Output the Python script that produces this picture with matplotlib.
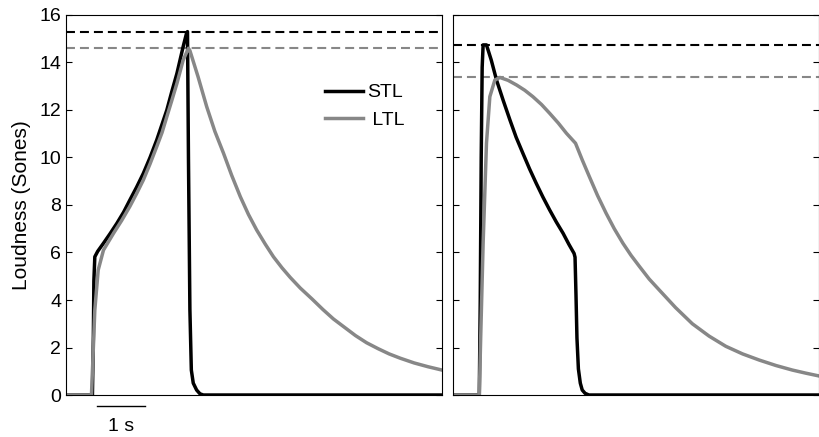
import matplotlib
matplotlib.use("Agg")
import matplotlib.pyplot as plt
import matplotlib.transforms as mtransforms

plt.rcParams['font.family'] = ['Liberation Sans', 'DejaVu Sans']

# === Données (temps en s, sonie en sones) ===
# Panneau gauche
t_stl_g = [0.0, 0.55, 0.57, 0.58, 0.60, 0.66, 0.78, 0.92, 1.06, 1.20, 1.33, 1.47, 1.61,
           1.75, 1.89, 2.00, 2.10, 2.20, 2.31, 2.44, 2.51, 2.53, 2.55, 2.58, 2.61, 2.65,
           2.72, 2.79, 2.86, 7.83]
stl_g = [0.0, 0.0, 2.5, 4.8, 5.82, 6.05, 6.39, 6.8, 7.23, 7.7, 8.21, 8.75, 9.33,
         10.0, 10.74, 11.4, 12.0, 12.75, 13.54, 14.67, 15.23, 15.3, 10.0, 3.6, 1.05, 0.5,
         0.21, 0.05, 0.0, 0.0]

t_ltl_g = [0.0, 0.53, 0.56, 0.60, 0.67, 0.78, 0.99, 1.16, 1.33, 1.47, 1.61, 1.75, 1.89,
           2.00, 2.10, 2.20, 2.31, 2.44, 2.55, 2.58, 2.75, 2.93, 3.10, 3.28, 3.45, 3.63,
           3.80, 3.97, 4.15, 4.32, 4.50, 4.67, 4.88, 5.12, 5.35, 5.57, 5.80, 6.03, 6.26,
           6.50, 6.73, 6.96, 7.25, 7.54, 7.83]
ltl_g = [0.0, 0.0, 1.5, 3.58, 5.26, 6.1, 6.81, 7.35, 7.94, 8.48, 9.05, 9.73, 10.46,
         11.05, 11.72, 12.38, 13.12, 14.1, 14.6, 14.5, 13.4, 12.14, 11.1, 10.18, 9.25, 8.35,
         7.6, 6.95, 6.35, 5.82, 5.35, 4.95, 4.5, 4.05, 3.6, 3.2, 2.85, 2.5, 2.2,
         1.95, 1.73, 1.55, 1.35, 1.19, 1.05]

# Panneau droit
t_stl_d = [0.0, 0.55, 0.57, 0.59, 0.61, 0.63, 0.70, 0.80, 0.91, 1.05, 1.19, 1.32, 1.46,
           1.60, 1.74, 1.88, 2.02, 2.16, 2.30, 2.42, 2.53, 2.55, 2.57, 2.59, 2.62, 2.66,
           2.70, 2.76, 2.84, 7.65]
stl_d = [0.0, 0.0, 4.0, 10.0, 13.8, 14.74, 14.74, 14.1, 13.26, 12.4, 11.58, 10.85, 10.18,
         9.52, 8.91, 8.33, 7.79, 7.28, 6.81, 6.35, 5.96, 5.8, 4.2, 2.4, 1.1, 0.5,
         0.21, 0.07, 0.0, 0.0]

t_ltl_d = [0.0, 0.55, 0.58, 0.63, 0.70, 0.77, 0.875, 0.98, 1.15, 1.33, 1.50, 1.67, 1.85,
           2.02, 2.20, 2.37, 2.56, 2.70, 2.85, 3.02, 3.20, 3.37, 3.55, 3.72, 3.90, 4.10,
           4.31, 4.65, 5.00, 5.35, 5.70, 6.05, 6.40, 6.75, 7.09, 7.37, 7.65]
ltl_d = [0.0, 0.0, 2.5, 6.39, 10.6, 12.56, 13.26, 13.37, 13.25, 13.05, 12.83, 12.56, 12.23,
         11.86, 11.45, 11.02, 10.6, 9.9, 9.19, 8.4, 7.65, 7.0, 6.39, 5.88, 5.4, 4.88,
         4.42, 3.68, 3.0, 2.48, 2.05, 1.73, 1.47, 1.24, 1.05, 0.92, 0.8]

# Maxima (lignes pointillées)
max_stl = [15.3, 14.74]
max_ltl = [14.6, 13.37]

GRIS = '#878787'

fig = plt.figure(figsize=(8.2, 4.37), dpi=100)
ax1 = fig.add_axes([0.0805, 0.0961, 0.4585, 0.8696])
ax2 = fig.add_axes([0.5524, 0.0961, 0.4466, 0.8696])

panneaux = [(ax1, t_stl_g, stl_g, t_ltl_g, ltl_g, 7.83),
            (ax2, t_stl_d, stl_d, t_ltl_d, ltl_d, 7.65)]

for i, (ax, ts, s, tl, l, xmax) in enumerate(panneaux):
    ax.axhline(max_stl[i], color='black', ls=(0, (4.3, 2.4)), lw=1.5)
    ax.axhline(max_ltl[i], color=GRIS, ls=(0, (4.3, 2.4)), lw=1.5)
    ax.plot(ts, s, color='black', lw=2.5, label='STL', solid_joinstyle='round')
    ax.plot(tl, l, color=GRIS, lw=2.5, label=' LTL', solid_joinstyle='round')
    ax.set_xlim(0, xmax)
    ax.set_ylim(0, 16)
    ax.set_yticks(range(0, 17, 2))
    ax.set_xticks([])
    ax.tick_params(axis='y', direction='in', right=True, length=4, labelsize=14)
    for sp in ax.spines.values():
        sp.set_linewidth(0.8)

ax2.set_yticklabels([])
ax1.set_ylabel('Loudness (Sones)', fontsize=15, labelpad=6)

leg = ax1.legend(loc='upper left', bbox_to_anchor=(0.641, 0.865), frameon=False,
                 fontsize=14, handlelength=2.0, handletextpad=0.2, labelspacing=0.5)

# === Barre d'échelle "1 s" ===
trans = mtransforms.blended_transform_factory(ax1.transData, ax1.transAxes)
ax1.plot([0.65, 1.65], [-0.03, -0.03], color='black', lw=1, transform=trans, clip_on=False)
ax1.text(1.15, -0.06, '1 s', transform=trans, ha='center', va='top', fontsize=14)

fig.savefig('out.png', dpi=100)
